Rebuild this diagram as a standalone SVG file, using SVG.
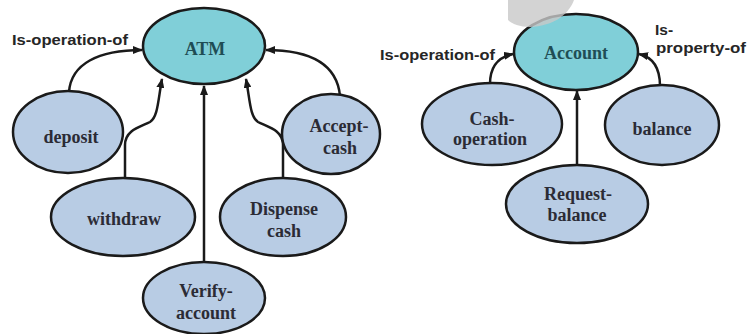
<svg xmlns="http://www.w3.org/2000/svg" width="748" height="334" viewBox="0 0 748 334">
<style>
.main{fill:#80cfd8;stroke:#1a1a1a;stroke-width:2.5}
.sub{fill:#b8cce4;stroke:#1a1a1a;stroke-width:2.5}
.nt{font-family:"Liberation Serif","Times New Roman",serif;font-weight:bold;font-size:18px;fill:#2b2b35;text-anchor:middle}
.mt{fill:#1f4d55}
.lbl{font-family:"Liberation Sans",Arial,sans-serif;font-weight:bold;font-size:15.5px;fill:#262626}
.con{fill:none;stroke:#1a1a1a;stroke-width:2.5;marker-end:url(#ah)}
</style>
<defs>
<marker id="ah" markerUnits="userSpaceOnUse" markerWidth="10" markerHeight="8" viewBox="0 0 10 8" refX="9" refY="4" orient="auto">
<path d="M0,0 L10,4 L0,8 z" fill="#1a1a1a"/>
</marker>
</defs>
<rect width="748" height="334" fill="#ffffff"/>
<g id="connectors">
<path class="con" d="M69,92 C71,64 98,50 142,50"/>
<path class="con" d="M125,178 L125,145 C125,130 140,127 150,122 C158,117 158,100 162,79"/>
<path class="con" d="M204,262 L204,86"/>
<path class="con" d="M283,178 L283,145 C283,130 268,127 258,122 C250,117 250,100 246,79"/>
<path class="con" d="M340,96 C337,64 310,50 266,50"/>
<path class="con" d="M490,84 C490,66 498,57 513,54"/>
<path class="con" d="M660,86 C660,66 652,57 639,54"/>
<path class="con" d="M577,165 L577,91"/>
</g>
<g id="ATM">
<ellipse class="main" cx="204" cy="46" rx="61" ry="38"/>
<text class="nt mt" x="205" y="55">ATM</text>
</g>
<g id="deposit">
<ellipse class="sub" cx="68" cy="132" rx="55" ry="41"/>
<text class="nt" x="71" y="143">deposit</text>
</g>
<g id="Accept-cash">
<ellipse class="sub" cx="331" cy="134" rx="49" ry="40"/>
<text class="nt" x="339" y="132">Accept-</text>
<text class="nt" x="340" y="154">cash</text>
</g>
<g id="withdraw">
<ellipse class="sub" cx="123" cy="217" rx="72" ry="39"/>
<text class="nt" x="124" y="225">withdraw</text>
</g>
<g id="Dispense-cash">
<ellipse class="sub" cx="283" cy="217" rx="63" ry="39"/>
<text class="nt" x="284" y="215">Dispense</text>
<text class="nt" x="284" y="237">cash</text>
</g>
<g id="Verify-account">
<ellipse class="sub" cx="204" cy="298" rx="61" ry="36"/>
<text class="nt" x="206" y="297">Verify-</text>
<text class="nt" x="206" y="319">account</text>
</g>
<g id="Account">
<ellipse class="main" cx="576" cy="52" rx="62" ry="38"/>
<text class="nt mt" x="576" y="59">Account</text>
</g>
<g id="Cash-operation">
<ellipse class="sub" cx="492" cy="124" rx="70" ry="41"/>
<text class="nt" x="492" y="125">Cash-</text>
<text class="nt" x="490" y="145">operation</text>
</g>
<g id="balance">
<ellipse class="sub" cx="662" cy="125" rx="57" ry="40"/>
<text class="nt" x="662" y="135">balance</text>
</g>
<g id="Request-balance">
<ellipse class="sub" cx="577" cy="204" rx="71" ry="39"/>
<text class="nt" x="578" y="200">Request-</text>
<text class="nt" x="577" y="221">balance</text>
</g>
<g id="labels">
<text class="lbl" x="12" y="45" textLength="116" lengthAdjust="spacingAndGlyphs">Is-operation-of</text>
<text class="lbl" x="380" y="60" textLength="115" lengthAdjust="spacingAndGlyphs">Is-operation-of</text>
<text class="lbl" x="655" y="35">Is-</text>
<text class="lbl" x="656" y="53" textLength="90" lengthAdjust="spacingAndGlyphs">property-of</text>
</g>
<path d="M508,0 L574,0 C568,16 552,26 530,27 C520,27 512,24 508,20 Z" fill="#c8c8c8" opacity="0.8"/>
</svg>
